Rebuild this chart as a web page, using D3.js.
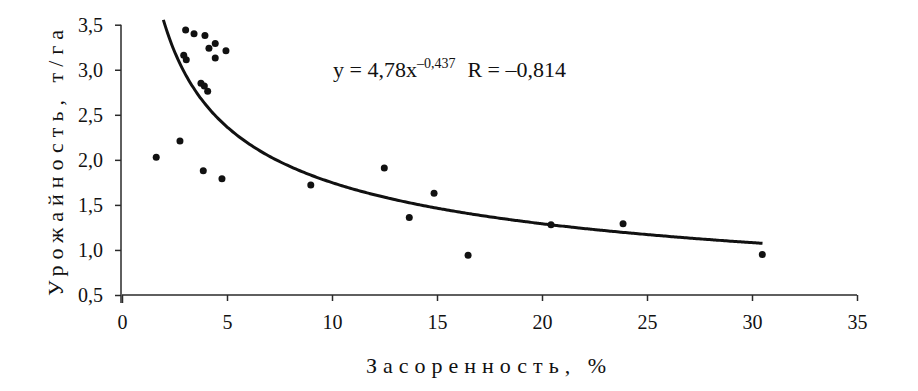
<!DOCTYPE html>
<html>
<head>
<meta charset="utf-8">
<script src="https://cdn.jsdelivr.net/npm/d3@7"></script>
<style>
  html, body { margin: 0; padding: 0; background: #fff; }
  svg { display: block; }
  svg text { font-family: "Liberation Serif", "Times New Roman", serif; }
  .axis path, .axis line { stroke: #2a2a2a; stroke-width: 1.5; }
  .axis text { font-size: 20px; fill: #111; }
</style>
</head>
<body>
<div id="chart"></div>
<script>
// Yield vs weed infestation, power trendline

// infestation, %
const weedPct = [
  3.03, 3.43, 3.95, 4.44, 4.14, 4.95, 4.44, 2.94, 3.06, 3.76, 3.92, 4.08,
  2.76, 1.63, 3.87, 4.76, 8.99, 12.49, 14.86, 13.68, 16.48, 20.43, 23.86, 30.49
];
// yield, t/ha
const yieldT = [
  3.44, 3.40, 3.38, 3.29, 3.24, 3.21, 3.13, 3.16, 3.11, 2.85, 2.82, 2.76,
  2.21, 2.03, 1.88, 1.79, 1.72, 1.91, 1.63, 1.36, 0.94, 1.28, 1.29, 0.95
];

const xTicks = [0, 5, 10, 15, 20, 25, 30, 35];
const yTicks = [0.5, 1.0, 1.5, 2.0, 2.5, 3.0, 3.5];

// trendline y = a * x^b, as printed on the chart
const trendA = 4.78;
const trendB = -0.437;
const trendR = -0.814;
const trendFrom = 1.97;
const trendTo = 30.5;

const width = 918, height = 391;
const fmt = d => d3.format(".1f")(d).replace(".", ",");

const svg = d3.select("#chart")
  .append("svg")
  .attr("width", width)
  .attr("height", height);

const x = d3.scaleLinear().domain([0, 35]).range([122, 857]);
const y = d3.scaleLinear().domain([0.5, 3.5]).range([295, 24.7]);

// axes
svg.append("g")
  .attr("class", "axis")
  .attr("transform", `translate(0,${y(0.5)})`)
  .call(d3.axisBottom(x).tickValues(xTicks).tickSize(6).tickPadding(14).tickFormat(d3.format("d")))
  .call(g => g.attr("font-family", null).attr("font-size", null))
  .call(g => g.select(".domain").attr("d", `M${x(0)},0H${x(35)}`))
  .call(g => g.selectAll(".tick line").filter(d => d === 0).attr("y2", 8));

svg.append("g")
  .attr("class", "axis")
  .attr("transform", `translate(${x(0) - 1},0)`)
  .call(d3.axisLeft(y).tickValues(yTicks).tickSize(6).tickPadding(12).tickFormat(fmt))
  .call(g => g.attr("font-family", null).attr("font-size", null))
  .call(g => g.select(".domain").attr("d", `M0,${y(3.5)}V${y(0.5) + 8}`));

// trendline
const trendX = d3.range(trendFrom, trendTo, 0.1).concat([trendTo]);
const line = d3.line()
  .x(d => x(d))
  .y(d => y(trendA * Math.pow(d, trendB)))
  .curve(d3.curveMonotoneX);

svg.append("path")
  .datum(trendX)
  .attr("d", line)
  .attr("fill", "none")
  .attr("stroke", "#111")
  .attr("stroke-width", 3);

// points
svg.selectAll(".pt")
  .data(weedPct.map((w, i) => ({ w, v: yieldT[i] })))
  .join("circle")
  .attr("class", "pt")
  .attr("cx", d => x(d.w))
  .attr("cy", d => y(d.v))
  .attr("r", 3.5)
  .attr("fill", "#111");

// equation
const eq = svg.append("text")
  .attr("x", 333)
  .attr("y", 77)
  .style("font-size", "22px")
  .style("fill", "#111");
eq.append("tspan").text(`y = ${String(trendA).replace(".", ",")}x`);
eq.append("tspan")
  .attr("dy", -9)
  .style("font-size", "14px")
  .text("\u2013" + String(-trendB).replace(".", ","));
eq.append("tspan")
  .attr("dy", 9)
  .attr("dx", 12)
  .text("R = \u2013" + String(-trendR).replace(".", ","));

// axis titles
svg.append("text")
  .attr("x", 489)
  .attr("y", 373)
  .attr("text-anchor", "middle")
  .style("font-size", "22px")
  .style("letter-spacing", "6px")
  .style("fill", "#111")
  .text("Засоренность, %");

svg.append("text")
  .attr("transform", "translate(63,160) rotate(-90)")
  .attr("text-anchor", "middle")
  .style("font-size", "22px")
  .style("letter-spacing", "6px")
  .style("fill", "#111")
  .text("Урожайность, т/га");
</script>
</body>
</html>
